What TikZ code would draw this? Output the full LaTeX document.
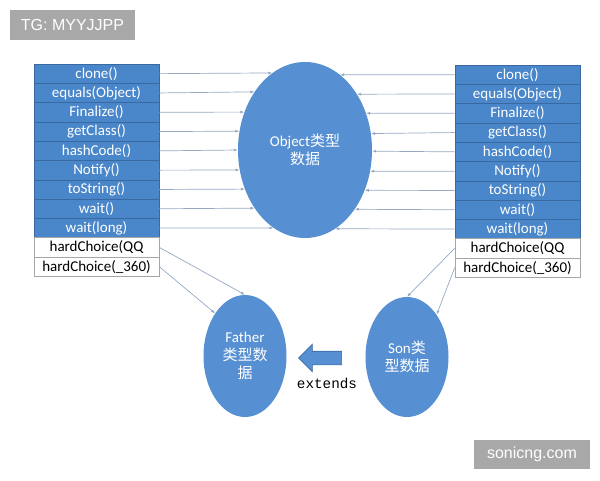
\documentclass[tikz,border=0pt]{standalone}
\usepackage{fontspec}
\setmainfont{Carlito}
\setmonofont{Liberation Mono}
\newfontfamily\cjk{Noto Sans CJK SC}
\newfontfamily\wmfont{Liberation Sans}
\usetikzlibrary{arrows.meta, shapes.geometric, shapes.arrows}
\usepackage{xcolor}
\definecolor{rowblue}{RGB}{74,134,202}
\definecolor{rowline}{RGB}{58,104,160}
\definecolor{ellblue}{RGB}{86,143,210}
\definecolor{linkgray}{RGB}{150,168,194}
\definecolor{wmgray}{RGB}{168,168,168}

\begin{document}
\begin{tikzpicture}[
    x=1pt, y=-1pt,
    meth/.style={rectangle, draw=rowline, line width=0.6pt, fill=rowblue, text=white, minimum width=125pt, minimum height=19.3pt, inner sep=0pt, font=\fontsize{15}{18}\selectfont},
    own/.style={rectangle, draw=gray!70, line width=0.6pt, fill=white, text=black, minimum width=125pt, minimum height=19.3pt, inner sep=0pt, font=\fontsize{15}{18}\selectfont},
    data/.style={ellipse, fill=ellblue, text=white, inner sep=0pt, align=center, font=\fontsize{15}{18}\selectfont},
    arr/.style={-{Latex[length=4pt, width=3pt]}, draw=linkgray, line width=0.7pt},
    wm/.style={rectangle, fill=wmgray, text=white, inner sep=0pt, font=\wmfont\fontsize{16}{18}\selectfont}
]
    \useasboundingbox (0,0) rectangle (600,480);

    % Left column -- Object methods of Father
    \node[meth] (l1) at (96.5, 73.65) {clone()};
    \node[meth] (l2) at (96.5, 92.95) {equals(Object)};
    \node[meth] (l3) at (96.5, 112.25) {Finalize()};
    \node[meth] (l4) at (96.5, 131.55) {getClass()};
    \node[meth] (l5) at (96.5, 150.85) {hashCode()};
    \node[meth] (l6) at (96.5, 170.15) {Notify()};
    \node[meth] (l7) at (96.5, 189.45) {toString()};
    \node[meth] (l8) at (96.5, 208.75) {wait()};
    \node[meth] (l9) at (96.5, 228.05) {wait(long)};
    \node[own] (l10) at (96.5, 247.35) {hardChoice(QQ};
    \node[own] (l11) at (96.5, 266.65) {hardChoice(\_360)};

    % Right column -- Object methods of Son
    \node[meth] (r1) at (517.5, 74.65) {clone()};
    \node[meth] (r2) at (517.5, 93.95) {equals(Object)};
    \node[meth] (r3) at (517.5, 113.25) {Finalize()};
    \node[meth] (r4) at (517.5, 132.55) {getClass()};
    \node[meth] (r5) at (517.5, 151.85) {hashCode()};
    \node[meth] (r6) at (517.5, 171.15) {Notify()};
    \node[meth] (r7) at (517.5, 190.45) {toString()};
    \node[meth] (r8) at (517.5, 209.75) {wait()};
    \node[meth] (r9) at (517.5, 229.05) {wait(long)};
    \node[own] (r10) at (517.5, 248.35) {hardChoice(QQ};
    \node[own] (r11) at (517.5, 267.65) {hardChoice(\_360)};

    % Data blobs
    \node[data, minimum width=134pt, minimum height=176pt] (obj) at (305, 150) {Object{\cjk 类型}\\{\cjk 数据}};
    \node[data, minimum width=83pt, minimum height=122pt] (father) at (245, 356) {Father\\{\cjk 类型数}\\{\cjk 据}};
    \node[data, minimum width=83pt, minimum height=120pt] (son) at (407, 357) {Son{\cjk 类}\\{\cjk 型数据}};

    % Inheritance arrow
    \node[single arrow, shape border rotate=180, fill=ellblue, draw=rowline, line width=0.6pt, minimum height=43pt, single arrow head extend=7pt, inner sep=6.5pt] (inh) at (323.5, 358) {};
    \node[font=\ttfamily\fontsize{14.3}{16}\selectfont] (ext) at (327, 383) {extends};

    % === Left methods -> Object ===
    \draw[arr] (l1.east) -- (obj.113.6);
    \draw[arr] (l2.east) -- (obj.131.8);
    \draw[arr] (l3.east) -- (obj.148);
    \draw[arr] (l4.east) -- (obj.164.3);
    \draw[arr] (l5.east) -- (obj.180.7);
    \draw[arr] (l6.east) -- (obj.197.2);
    \draw[arr] (l7.east) -- (obj.213.4);
    \draw[arr] (l8.east) -- (obj.229.7);
    \draw[arr] (l9.east) -- (obj.248.4);

    % === Right methods -> Object ===
    \draw[arr] (r1.west) -- (obj.65.3);
    \draw[arr] (r2.west) -- (obj.47.3);
    \draw[arr] (r3.west) -- (obj.31.1);
    \draw[arr] (r4.west) -- (obj.14.9);
    \draw[arr] (r5.west) -- (obj.-1.6);
    \draw[arr] (r6.west) -- (obj.-18);
    \draw[arr] (r7.west) -- (obj.-34.2);
    \draw[arr] (r8.west) -- (obj.-50.5);
    \draw[arr] (r9.west) -- (obj.-69.6);

    % === Own methods -> Father / Son ===
    \draw[arr] (l10.east) -- (father.north);
    \draw[arr] (l11.east) -- (father.125);
    \draw[arr] (r10.west) -- (son.north);
    \draw[arr] (r11.west) -- (son.55);

    % Watermarks
    \node[wm, minimum width=125pt, minimum height=30pt] (tg) at (72.5, 25) {TG: MYYJJPP};
    \node[wm, minimum width=116pt, minimum height=29pt] (site) at (532, 454.5) {sonicng.com};

\end{tikzpicture}
\end{document}
